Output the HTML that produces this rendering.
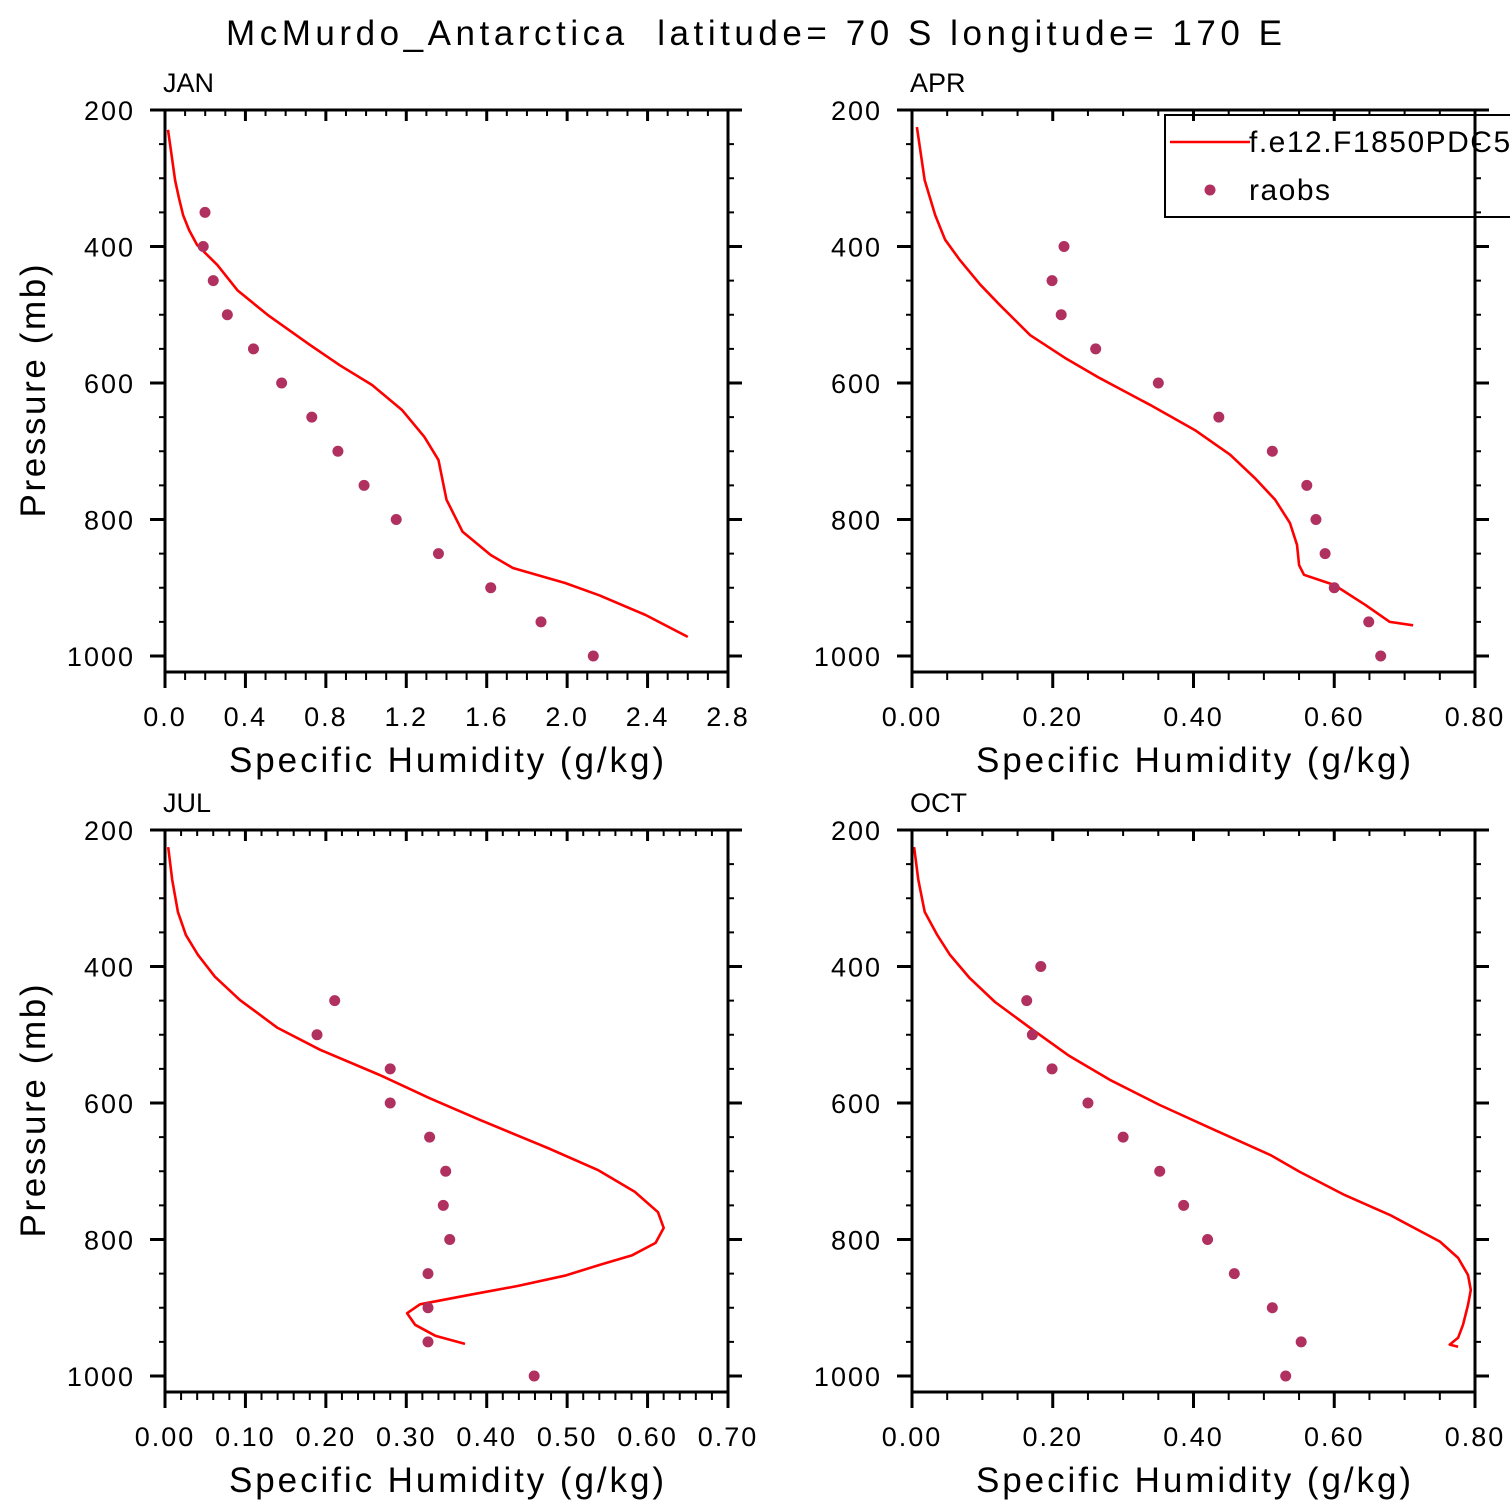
<!DOCTYPE html>
<html><head><meta charset="utf-8"><style>
html,body{margin:0;padding:0;background:#fff;width:1510px;height:1510px;overflow:hidden}
svg{display:block}
text{font-family:"Liberation Sans",sans-serif;fill:#000;white-space:pre}
</style></head><body>
<svg id="chart" width="1510" height="1510" viewBox="0 0 1510 1510">
<text x="754" y="45" font-size="35" text-anchor="middle" textLength="1056" lengthAdjust="spacing" xml:space="preserve">McMurdo_Antarctica  latitude= 70 S longitude= 170 E</text>
</svg>
<script>
// ---- data ----
const obsPressure = [350,400,450,500,550,600,650,700,750,800,850,900,950,1000];
const obsPressure2 = [400,450,500,550,600,650,700,750,800,850,900,950,1000];
const obsPressure3 = [450,500,550,600,650,700,750,800,850,900,950,1000];
const janObs = [0.199,0.19,0.24,0.31,0.44,0.58,0.73,0.86,0.99,1.15,1.36,1.62,1.87,2.13];
const janModelP = [229,260,303,330,354,376,398,427,464,500,544,574,603,640,679,713,771,818,852,871,893,911,940,972];
const janModelQ = [0.015,0.03,0.05,0.07,0.09,0.12,0.16,0.26,0.36,0.51,0.72,0.87,1.03,1.18,1.29,1.36,1.40,1.48,1.62,1.73,1.99,2.16,2.39,2.60];
const aprObs = [0.216,0.199,0.212,0.261,0.350,0.436,0.512,0.561,0.574,0.587,0.600,0.649,0.666];
const aprModelP = [225,303,354,390,420,456,486,530,563,593,632,669,705,739,771,805,837,867,881,896,925,950,955];
const aprModelQ = [0.007,0.018,0.033,0.047,0.068,0.097,0.125,0.168,0.217,0.267,0.338,0.402,0.452,0.487,0.516,0.537,0.547,0.550,0.557,0.600,0.644,0.679,0.712];
const julObs = [0.211,0.189,0.280,0.280,0.329,0.349,0.346,0.354,0.327,0.327,0.327,0.459];
const julModelP = [225,273,320,354,383,415,449,490,522,559,593,625,666,698,730,760,783,805,823,837,853,868,881,895,908,925,941,953];
const julModelQ = [0.004,0.009,0.016,0.026,0.041,0.062,0.093,0.140,0.193,0.267,0.329,0.392,0.476,0.538,0.584,0.613,0.620,0.610,0.581,0.541,0.497,0.439,0.379,0.317,0.301,0.311,0.336,0.373];
const octObs = [0.183,0.163,0.171,0.199,0.250,0.300,0.352,0.386,0.420,0.458,0.512,0.553,0.531];
const octModelP = [225,273,320,354,383,417,452,490,530,566,603,640,676,701,735,764,803,827,852,874,896,925,944,954,957];
const octModelQ = [0.003,0.009,0.018,0.036,0.054,0.082,0.118,0.168,0.222,0.281,0.352,0.431,0.509,0.551,0.615,0.679,0.750,0.776,0.790,0.794,0.790,0.783,0.776,0.764,0.776];
const janTicks = ["0.0","0.4","0.8","1.2","1.6","2.0","2.4","2.8"];
const aprTicks = ["0.00","0.20","0.40","0.60","0.80"];
const julTicks = ["0.00","0.10","0.20","0.30","0.40","0.50","0.60","0.70"];
const pTicks = ["200","400","600","800","1000"];

const NS="http://www.w3.org/2000/svg";
const svg=document.getElementById('chart');
function mk(tag,attrs,parent){const e=document.createElementNS(NS,tag);for(const k in attrs)e.setAttribute(k,attrs[k]);(parent||svg).appendChild(e);return e;}

function panel(name,x0,y0,xmax,majorStep,minorPer,ticks,mP,mQ,oP,oQ,showLegend){
  const W=563,H=562;
  const g=mk('g',{});
  
  
  const xs=v=>x0+v/xmax*W;
  const ys=p=>y0+(p-200)*0.6825;
  const yBot=y0+H;
  const pts=mP.map((p,i)=>xs(mQ[i]).toFixed(1)+','+ys(p).toFixed(1)).join(' ');
  const line=mk('polyline',{points:pts,fill:'none',stroke:'#ff0000','stroke-width':2.6,'stroke-linejoin':'round'},g);
  
  
  oP.forEach((p,i)=>{
    const c=mk('circle',{cx:xs(oQ[i]),cy:ys(p),r:5.5,fill:'#b03060'},g);
    
    
  });
  const fr=mk('rect',{x:x0,y:y0,width:W,height:H,fill:'none',stroke:'#000','stroke-width':3},g);
  
  
  const nMaj=ticks.length-1, nMin=nMaj*(minorPer+1);
  for(let i=0;i<=nMin;i++){
    const x=x0+i*W/nMin, maj=i%(minorPer+1)===0;
    mk('line',{x1:x,x2:x,y1:y0,y2:y0+(maj?11:6),stroke:'#000','stroke-width':maj?3:2},g);
    mk('line',{x1:x,x2:x,y1:yBot,y2:yBot+(maj?16:8),stroke:'#000','stroke-width':maj?3:2},g);
  }
  ticks.forEach((t,i)=>{
    const tx=mk('text',{x:x0+i*W/nMaj,y:y0+H+54,'font-size':27,'letter-spacing':2,'text-anchor':'middle'},g);
    tx.textContent=t;
    
    
  });
  for(let p=200;ys(p)<=yBot+0.5;p+=50){
    const y=ys(p), maj=p%200===0;
    mk('line',{x1:x0-(maj?15:6),x2:x0,y1:y,y2:y,stroke:'#000','stroke-width':maj?3:2},g);
    mk('line',{x1:x0+W,x2:x0+W+(maj?14:6),y1:y,y2:y,stroke:'#000','stroke-width':maj?3:2},g);
  }
  pTicks.forEach(t=>{
    const tx=mk('text',{x:x0-30,y:ys(+t)+10,'font-size':27,'letter-spacing':2,'text-anchor':'end'},g);
    tx.textContent=t;
    
    
  });
  const lab=mk('text',{x:x0-2,y:y0-18,'font-size':27},g);
  lab.textContent=name.toUpperCase();
  
  
  const xt=mk('text',{x:x0+W/2,y:y0+H+100,'font-size':35,'text-anchor':'middle',textLength:435,lengthAdjust:'spacing'},g);
  xt.textContent='Specific Humidity (g/kg)';
  
  
  if(x0<500){
    const yt=mk('text',{x:0,y:0,'font-size':35,'text-anchor':'middle',textLength:253,lengthAdjust:'spacing',transform:`translate(45,${y0+281}) rotate(-90)`},g);
    yt.textContent='Pressure (mb)';
    
    
  }
  if(showLegend){
    const lg=mk('g',{},g);
    
    
    mk('rect',{x:1165,y:115,width:400,height:102,fill:'none',stroke:'#000','stroke-width':2},lg);
    const ll=mk('line',{x1:1170,x2:1250,y1:142,y2:142,stroke:'#ff0000','stroke-width':2.6},lg);
    
    
    const t1=mk('text',{x:1249,y:152,'font-size':30,'letter-spacing':1.5},lg);t1.textContent='f.e12.F1850PDC5';
    
    
    const dc=mk('circle',{cx:1210,cy:190,r:5.5,fill:'#b03060'},lg);
    
    
    const t2=mk('text',{x:1249,y:200,'font-size':30,'letter-spacing':1.5},lg);t2.textContent='raobs';
    
    
    mk('line',{x1:x0+W,x2:x0+W,y1:y0,y2:y0+H,stroke:'#000','stroke-width':3},g);
  }
}
panel('jan',165,110,2.8,0.4,3,janTicks,janModelP,janModelQ,obsPressure,janObs,false);
panel('apr',912,110,0.8,0.2,3,aprTicks,aprModelP,aprModelQ,obsPressure2,aprObs,true);
panel('jul',165,830,0.7,0.1,4,julTicks,julModelP,julModelQ,obsPressure3,julObs,false);
panel('oct',912,830,0.8,0.2,3,aprTicks,octModelP,octModelQ,obsPressure2,octObs,false);
</script>
</body></html>
